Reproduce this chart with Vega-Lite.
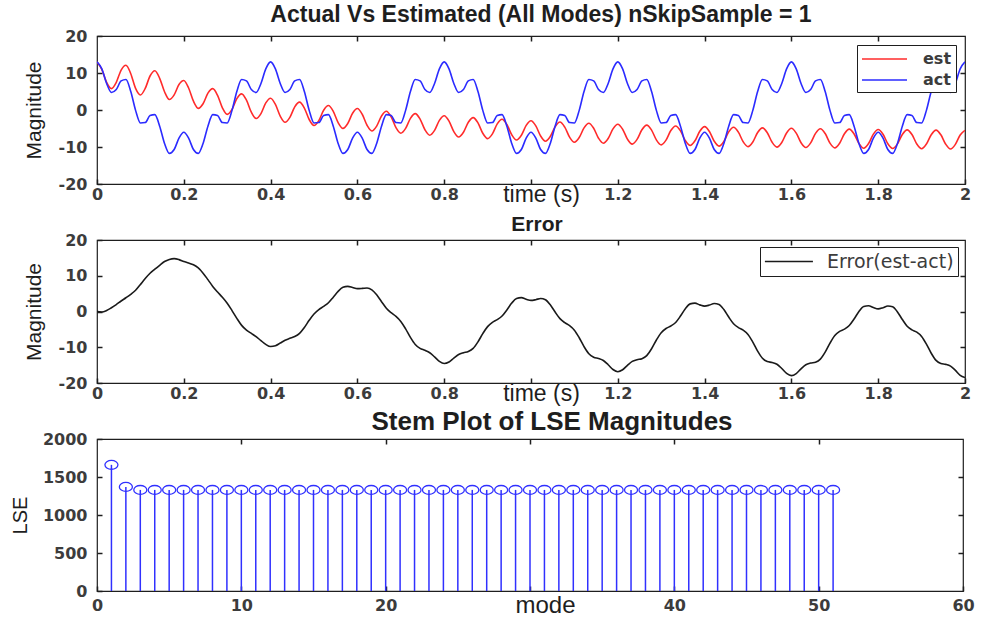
{
 "$schema": "https://vega.github.io/schema/vega-lite/v6.json",
 "background": "white",
 "padding": {"left": 9, "top": 3, "right": 5, "bottom": 3},
 "datasets": {
  "sig": [
{"t":0,"est":13,"act":13,"err":0},
{"t":0.0111,"est":10.97,"act":11.11,"err":-0.14},
{"t":0.0222,"est":7.46,"act":7.18,"err":0.28},
{"t":0.0333,"est":5.79,"act":4.73,"err":1.06},
{"t":0.0444,"est":7.47,"act":5.53,"err":1.94},
{"t":0.0556,"est":10.8,"act":7.86,"err":2.94},
{"t":0.0667,"est":12.1,"act":8.25,"err":3.85},
{"t":0.0778,"est":9.81,"act":5,"err":4.81},
{"t":0.0889,"est":5.83,"act":-0.1,"err":5.93},
{"t":0.1,"est":4.06,"act":-3.5,"err":7.56},
{"t":0.1111,"est":5.83,"act":-3.4,"err":9.23},
{"t":0.1222,"est":9.19,"act":-1.5,"err":10.69},
{"t":0.1333,"est":10.59,"act":-1.25,"err":11.84},
{"t":0.1444,"est":8.57,"act":-4.36,"err":12.93},
{"t":0.1556,"est":4.94,"act":-9.03,"err":13.97},
{"t":0.1667,"est":2.83,"act":-11.73,"err":14.56},
{"t":0.1778,"est":4.1,"act":-10.68,"err":14.78},
{"t":0.1889,"est":6.9,"act":-7.61,"err":14.51},
{"t":0.2,"est":7.99,"act":-6,"err":13.99},
{"t":0.2111,"est":5.95,"act":-7.61,"err":13.56},
{"t":0.2222,"est":2.38,"act":-10.68,"err":13.06},
{"t":0.2333,"est":0.45,"act":-11.73,"err":12.18},
{"t":0.2444,"est":1.7,"act":-9.03,"err":10.73},
{"t":0.2556,"est":4.55,"act":-4.36,"err":8.91},
{"t":0.2667,"est":5.77,"act":-1.25,"err":7.02},
{"t":0.2778,"est":3.95,"act":-1.5,"err":5.45},
{"t":0.2889,"est":0.59,"act":-3.4,"err":3.99},
{"t":0.3,"est":-1.18,"act":-3.5,"err":2.32},
{"t":0.3111,"est":0.16,"act":-0.1,"err":0.26},
{"t":0.3222,"est":3.08,"act":5,"err":-1.92},
{"t":0.3333,"est":4.37,"act":8.25,"err":-3.88},
{"t":0.3444,"est":2.65,"act":7.86,"err":-5.21},
{"t":0.3556,"est":-0.6,"act":5.53,"err":-6.13},
{"t":0.3667,"est":-2.31,"act":4.73,"err":-7.04},
{"t":0.3778,"est":-0.97,"act":7.18,"err":-8.15},
{"t":0.3889,"est":1.91,"act":11.11,"err":-9.2},
{"t":0.4,"est":3.19,"act":13,"err":-9.81},
{"t":0.4111,"est":1.52,"act":11.11,"err":-9.59},
{"t":0.4222,"est":-1.65,"act":7.18,"err":-8.83},
{"t":0.4333,"est":-3.3,"act":4.73,"err":-8.03},
{"t":0.4444,"est":-1.98,"act":5.53,"err":-7.51},
{"t":0.4556,"est":0.86,"act":7.86,"err":-7},
{"t":0.4667,"est":2.14,"act":8.25,"err":-6.11},
{"t":0.4778,"est":0.52,"act":5,"err":-4.48},
{"t":0.4889,"est":-2.57,"act":-0.1,"err":-2.47},
{"t":0.5,"est":-4.19,"act":-3.5,"err":-0.69},
{"t":0.5111,"est":-2.86,"act":-3.4,"err":0.54},
{"t":0.5222,"est":-0.07,"act":-1.5,"err":1.43},
{"t":0.5333,"est":1.21,"act":-1.25,"err":2.46},
{"t":0.5444,"est":-0.36,"act":-4.36,"err":4},
{"t":0.5556,"est":-3.4,"act":-9.03,"err":5.63},
{"t":0.5667,"est":-4.97,"act":-11.73,"err":6.76},
{"t":0.5778,"est":-3.65,"act":-10.68,"err":7.03},
{"t":0.5889,"est":-0.88,"act":-7.61,"err":6.73},
{"t":0.6,"est":0.4,"act":-6,"err":6.4},
{"t":0.6111,"est":-1.15,"act":-7.61,"err":6.46},
{"t":0.6222,"est":-4.12,"act":-10.68,"err":6.56},
{"t":0.6333,"est":-5.66,"act":-11.73,"err":6.07},
{"t":0.6444,"est":-4.35,"act":-9.03,"err":4.68},
{"t":0.6556,"est":-1.61,"act":-4.36,"err":2.75},
{"t":0.6667,"est":-0.33,"act":-1.25,"err":0.92},
{"t":0.6778,"est":-1.84,"act":-1.5,"err":-0.34},
{"t":0.6889,"est":-4.77,"act":-3.4,"err":-1.37},
{"t":0.7,"est":-6.27,"act":-3.5,"err":-2.77},
{"t":0.7111,"est":-4.97,"act":-0.1,"err":-4.87},
{"t":0.7222,"est":-2.25,"act":5,"err":-7.25},
{"t":0.7333,"est":-0.98,"act":8.25,"err":-9.23},
{"t":0.7444,"est":-2.46,"act":7.86,"err":-10.32},
{"t":0.7556,"est":-5.33,"act":5.53,"err":-10.86},
{"t":0.7667,"est":-6.81,"act":4.73,"err":-11.54},
{"t":0.7778,"est":-5.51,"act":7.18,"err":-12.69},
{"t":0.7889,"est":-2.82,"act":11.11,"err":-13.93},
{"t":0.8,"est":-1.55,"act":13,"err":-14.55},
{"t":0.8111,"est":-3,"act":11.11,"err":-14.11},
{"t":0.8222,"est":-5.84,"act":7.18,"err":-13.02},
{"t":0.8333,"est":-7.29,"act":4.73,"err":-12.02},
{"t":0.8444,"est":-6,"act":5.53,"err":-11.53},
{"t":0.8556,"est":-3.32,"act":7.86,"err":-11.18},
{"t":0.8667,"est":-2.05,"act":8.25,"err":-10.3},
{"t":0.8778,"est":-3.48,"act":5,"err":-8.48},
{"t":0.8889,"est":-6.29,"act":-0.1,"err":-6.19},
{"t":0.9,"est":-7.73,"act":-3.5,"err":-4.23},
{"t":0.9111,"est":-6.44,"act":-3.4,"err":-3.04},
{"t":0.9222,"est":-3.76,"act":-1.5,"err":-2.26},
{"t":0.9333,"est":-2.5,"act":-1.25,"err":-1.25},
{"t":0.9444,"est":-3.92,"act":-4.36,"err":0.44},
{"t":0.9556,"est":-6.68,"act":-9.03,"err":2.35},
{"t":0.9667,"est":-8.1,"act":-11.73,"err":3.63},
{"t":0.9778,"est":-6.81,"act":-10.68,"err":3.87},
{"t":0.9889,"est":-4.17,"act":-7.61,"err":3.44},
{"t":1,"est":-2.9,"act":-6,"err":3.1},
{"t":1.0111,"est":-4.3,"act":-7.61,"err":3.31},
{"t":1.0222,"est":-7.03,"act":-10.68,"err":3.65},
{"t":1.0333,"est":-8.43,"act":-11.73,"err":3.3},
{"t":1.0444,"est":-7.15,"act":-9.03,"err":1.88},
{"t":1.0556,"est":-4.52,"act":-4.36,"err":-0.16},
{"t":1.0667,"est":-3.25,"act":-1.25,"err":-2},
{"t":1.0778,"est":-4.63,"act":-1.5,"err":-3.13},
{"t":1.0889,"est":-7.34,"act":-3.4,"err":-3.94},
{"t":1.1,"est":-8.72,"act":-3.5,"err":-5.22},
{"t":1.1111,"est":-7.44,"act":-0.1,"err":-7.34},
{"t":1.1222,"est":-4.83,"act":5,"err":-9.83},
{"t":1.1333,"est":-3.57,"act":8.25,"err":-11.82},
{"t":1.1444,"est":-4.93,"act":7.86,"err":-12.79},
{"t":1.1556,"est":-7.62,"act":5.53,"err":-13.15},
{"t":1.1667,"est":-8.98,"act":4.73,"err":-13.71},
{"t":1.1778,"est":-7.71,"act":7.18,"err":-14.89},
{"t":1.1889,"est":-5.11,"act":11.11,"err":-16.22},
{"t":1.2,"est":-3.84,"act":13,"err":-16.84},
{"t":1.2111,"est":-5.19,"act":11.11,"err":-16.3},
{"t":1.2222,"est":-7.87,"act":7.18,"err":-15.05},
{"t":1.2333,"est":-9.22,"act":4.73,"err":-13.95},
{"t":1.2444,"est":-7.95,"act":5.53,"err":-13.48},
{"t":1.2556,"est":-5.34,"act":7.86,"err":-13.2},
{"t":1.2667,"est":-4.08,"act":8.25,"err":-12.33},
{"t":1.2778,"est":-5.43,"act":5,"err":-10.43},
{"t":1.2889,"est":-8.08,"act":-0.1,"err":-7.98},
{"t":1.3,"est":-9.43,"act":-3.5,"err":-5.93},
{"t":1.3111,"est":-8.15,"act":-3.4,"err":-4.75},
{"t":1.3222,"est":-5.56,"act":-1.5,"err":-4.06},
{"t":1.3333,"est":-4.31,"act":-1.25,"err":-3.06},
{"t":1.3444,"est":-5.64,"act":-4.36,"err":-1.28},
{"t":1.3556,"est":-8.27,"act":-9.03,"err":0.76},
{"t":1.3667,"est":-9.6,"act":-11.73,"err":2.13},
{"t":1.3778,"est":-8.33,"act":-10.68,"err":2.35},
{"t":1.3889,"est":-5.76,"act":-7.61,"err":1.85},
{"t":1.4,"est":-4.5,"act":-6,"err":1.5},
{"t":1.4111,"est":-5.82,"act":-7.61,"err":1.79},
{"t":1.4222,"est":-8.44,"act":-10.68,"err":2.24},
{"t":1.4333,"est":-9.76,"act":-11.73,"err":1.97},
{"t":1.4444,"est":-8.5,"act":-9.03,"err":0.53},
{"t":1.4556,"est":-5.92,"act":-4.36,"err":-1.56},
{"t":1.4667,"est":-4.67,"act":-1.25,"err":-3.42},
{"t":1.4778,"est":-5.99,"act":-1.5,"err":-4.49},
{"t":1.4889,"est":-8.59,"act":-3.4,"err":-5.19},
{"t":1.5,"est":-9.9,"act":-3.5,"err":-6.4},
{"t":1.5111,"est":-8.64,"act":-0.1,"err":-8.54},
{"t":1.5222,"est":-6.08,"act":5,"err":-11.08},
{"t":1.5333,"est":-4.82,"act":8.25,"err":-13.07},
{"t":1.5444,"est":-6.13,"act":7.86,"err":-13.99},
{"t":1.5556,"est":-8.73,"act":5.53,"err":-14.26},
{"t":1.5667,"est":-10.03,"act":4.73,"err":-14.76},
{"t":1.5778,"est":-8.77,"act":7.18,"err":-15.95},
{"t":1.5889,"est":-6.21,"act":11.11,"err":-17.32},
{"t":1.6,"est":-4.95,"act":13,"err":-17.95},
{"t":1.6111,"est":-6.25,"act":11.11,"err":-17.36},
{"t":1.6222,"est":-8.85,"act":7.18,"err":-16.03},
{"t":1.6333,"est":-10.15,"act":4.73,"err":-14.88},
{"t":1.6444,"est":-8.89,"act":5.53,"err":-14.42},
{"t":1.6556,"est":-6.32,"act":7.86,"err":-14.18},
{"t":1.6667,"est":-5.07,"act":8.25,"err":-13.32},
{"t":1.6778,"est":-6.37,"act":5,"err":-11.37},
{"t":1.6889,"est":-8.95,"act":-0.1,"err":-8.85},
{"t":1.7,"est":-10.24,"act":-3.5,"err":-6.74},
{"t":1.7111,"est":-8.98,"act":-3.4,"err":-5.58},
{"t":1.7222,"est":-6.43,"act":-1.5,"err":-4.93},
{"t":1.7333,"est":-5.18,"act":-1.25,"err":-3.93},
{"t":1.7444,"est":-6.47,"act":-4.36,"err":-2.11},
{"t":1.7556,"est":-9.04,"act":-9.03,"err":-0.01},
{"t":1.7667,"est":-10.33,"act":-11.73,"err":1.4},
{"t":1.7778,"est":-9.07,"act":-10.68,"err":1.61},
{"t":1.7889,"est":-6.52,"act":-7.61,"err":1.09},
{"t":1.8,"est":-5.27,"act":-6,"err":0.73},
{"t":1.8111,"est":-6.55,"act":-7.61,"err":1.06},
{"t":1.8222,"est":-9.13,"act":-10.68,"err":1.55},
{"t":1.8333,"est":-10.41,"act":-11.73,"err":1.32},
{"t":1.8444,"est":-9.15,"act":-9.03,"err":-0.12},
{"t":1.8556,"est":-6.6,"act":-4.36,"err":-2.24},
{"t":1.8667,"est":-5.36,"act":-1.25,"err":-4.11},
{"t":1.8778,"est":-6.64,"act":-1.5,"err":-5.14},
{"t":1.8889,"est":-9.19,"act":-3.4,"err":-5.79},
{"t":1.9,"est":-10.47,"act":-3.5,"err":-6.97},
{"t":1.9111,"est":-9.21,"act":-0.1,"err":-9.11},
{"t":1.9222,"est":-6.68,"act":5,"err":-11.68},
{"t":1.9333,"est":-5.43,"act":8.25,"err":-13.68},
{"t":1.9444,"est":-6.71,"act":7.86,"err":-14.57},
{"t":1.9556,"est":-9.26,"act":5.53,"err":-14.79},
{"t":1.9667,"est":-10.54,"act":4.73,"err":-15.27},
{"t":1.9778,"est":-9.28,"act":7.18,"err":-16.46},
{"t":1.9889,"est":-6.75,"act":11.11,"err":-17.86},
{"t":2,"est":-5.49,"act":13,"err":-18.49}
  ],
  "lse": [
{"mode":1,"lse":1660},{"mode":2,"lse":1370},{"mode":3,"lse":1330},{"mode":4,"lse":1330},{"mode":5,"lse":1330},
{"mode":6,"lse":1330},{"mode":7,"lse":1330},{"mode":8,"lse":1330},{"mode":9,"lse":1330},{"mode":10,"lse":1330},
{"mode":11,"lse":1330},{"mode":12,"lse":1330},{"mode":13,"lse":1330},{"mode":14,"lse":1330},{"mode":15,"lse":1330},
{"mode":16,"lse":1330},{"mode":17,"lse":1330},{"mode":18,"lse":1330},{"mode":19,"lse":1330},{"mode":20,"lse":1330},
{"mode":21,"lse":1330},{"mode":22,"lse":1330},{"mode":23,"lse":1330},{"mode":24,"lse":1330},{"mode":25,"lse":1330},
{"mode":26,"lse":1330},{"mode":27,"lse":1330},{"mode":28,"lse":1330},{"mode":29,"lse":1330},{"mode":30,"lse":1330},
{"mode":31,"lse":1330},{"mode":32,"lse":1330},{"mode":33,"lse":1330},{"mode":34,"lse":1330},{"mode":35,"lse":1330},
{"mode":36,"lse":1330},{"mode":37,"lse":1330},{"mode":38,"lse":1330},{"mode":39,"lse":1330},{"mode":40,"lse":1330},
{"mode":41,"lse":1330},{"mode":42,"lse":1330},{"mode":43,"lse":1330},{"mode":44,"lse":1330},{"mode":45,"lse":1330},
{"mode":46,"lse":1330},{"mode":47,"lse":1330},{"mode":48,"lse":1330},{"mode":49,"lse":1330},{"mode":50,"lse":1330},
{"mode":51,"lse":1330}
  ]
 },
 "config": {
  "font": "Liberation Sans",
  "view": {"stroke": "#1e1e1e", "strokeWidth": 1.2},
  "axis": {"domain": false, "grid": false, "ticks": true, "tickSize": -5, "tickWidth": 1.5, "tickColor": "#1e1e1e",
           "labelFont": "DejaVu Sans", "labelFontWeight": "bold", "labelFontSize": 16, "labelColor": "#3c3c3c",
           "titleFont": "Liberation Sans", "titleFontWeight": "normal", "titleColor": "#1e1e1e",
           "labelFlush": false, "labelOverlap": false},
  "legend": {"title": null, "orient": "top-right", "symbolStrokeWidth": 1.5,
             "labelFont": "DejaVu Sans", "labelColor": "#3c3c3c", "strokeColor": "#1e1e1e", "fillColor": "white",
             "rowPadding": 2},
  "title": {"font": "Liberation Sans", "fontWeight": "bold", "color": "#1e1e1e", "anchor": "middle"}
 },
 "bounds": "flush",
 "spacing": 56,
 "resolve": {"scale": {"color": "independent"}},
 "vconcat": [
    {
     "width": 868, "height": 148,
     "title": {"text": "Actual Vs Estimated (All Modes)  nSkipSample = 1", "fontSize": 23, "offset": 1, "dx": 10},
     "data": {"name": "sig"},
     "layer": [
      {
       "transform": [{"fold": ["est", "act"], "as": ["series", "value"]}],
       "mark": {"type": "line", "interpolate": "monotone", "strokeWidth": 1.6, "clip": true},
       "encoding": {
        "x": {"field": "t", "type": "quantitative", "scale": {"domain": [0, 2], "nice": false, "zero": false},
              "axis": {"values": [0, 0.2, 0.4, 0.6, 0.8, 1, 1.2, 1.4, 1.6, 1.8, 2], "format": "~g",
                       "labelExpr": "datum.value == 1 ? '' : datum.label", "labelPadding": 7,
                       "title": "time (s)", "titleFontSize": 23, "titleX": 444, "titleY": 17, "titleBaseline": "alphabetic"}},
        "y": {"field": "value", "type": "quantitative", "scale": {"domain": [-20, 20], "nice": false},
              "axis": {"values": [-20, -10, 0, 10, 20], "labelExpr": "replace(datum.label, '\u2212', '-')",
                       "labelPadding": 15, "title": "Magnitude", "titleFontSize": 21, "titlePadding": 14}},
        "color": {"field": "series", "type": "nominal",
                  "scale": {"domain": ["est", "act"], "range": ["#ff2b2b", "#2b2bff"]},
                  "legend": {"offset": 9, "symbolType": "M-1,0H4", "symbolSize": 324, "labelFontSize": 16, "labelFontWeight": "bold",
                             "padding": 4, "labelOffset": 42, "rowPadding": 3}}
       }
      },
      {
       "mark": {"type": "line", "opacity": 0},
       "encoding": {
        "x": {"field": "t", "type": "quantitative", "scale": {"domain": [0, 2], "nice": false, "zero": false},
              "axis": {"orient": "top", "labels": false, "title": null, "values": [0.2, 0.4, 0.6, 0.8, 1, 1.2, 1.4, 1.6, 1.8]}},
        "y": {"field": "act", "type": "quantitative", "scale": {"domain": [-20, 20], "nice": false},
              "axis": {"orient": "right", "labels": false, "title": null, "values": [-10, 0, 10]}}
       }
      }
     ],
     "resolve": {"axis": {"x": "independent", "y": "independent"}}
    },
    {
     "width": 868, "height": 143,
     "title": {"text": "Error", "fontSize": 21, "offset": -3, "dx": 6},
     "data": {"name": "sig"},
     "layer": [
      {
       "mark": {"type": "line", "interpolate": "monotone", "strokeWidth": 1.6, "clip": true},
       "encoding": {
        "x": {"field": "t", "type": "quantitative", "scale": {"domain": [0, 2], "nice": false, "zero": false},
              "axis": {"values": [0, 0.2, 0.4, 0.6, 0.8, 1, 1.2, 1.4, 1.6, 1.8, 2], "format": "~g",
                       "labelExpr": "datum.value == 1 ? '' : datum.label", "labelPadding": 7,
                       "title": "time (s)", "titleFontSize": 23, "titleX": 444, "titleY": 17, "titleBaseline": "alphabetic"}},
        "y": {"field": "err", "type": "quantitative", "scale": {"domain": [-20, 20], "nice": false},
              "axis": {"values": [-20, -10, 0, 10, 20], "labelExpr": "replace(datum.label, '\u2212', '-')",
                       "labelPadding": 15, "title": "Magnitude", "titleFontSize": 21, "titlePadding": 14}},
        "color": {"datum": "Error(est-act)", "type": "nominal", "scale": {"range": ["#1a1a1a"]},
                  "legend": {"offset": 7, "symbolType": "M-1,0H4", "symbolSize": 369, "labelFontSize": 19, "padding": 4, "labelOffset": 42}}
       }
      },
      {
       "mark": {"type": "line", "opacity": 0},
       "encoding": {
        "x": {"field": "t", "type": "quantitative", "scale": {"domain": [0, 2], "nice": false, "zero": false},
              "axis": {"orient": "top", "labels": false, "title": null, "values": [0.2, 0.4, 0.6, 0.8, 1, 1.2, 1.4, 1.6, 1.8]}},
        "y": {"field": "err", "type": "quantitative", "scale": {"domain": [-20, 20], "nice": false},
              "axis": {"orient": "right", "labels": false, "title": null, "values": [-10, 0, 10]}}
       }
      }
     ],
     "resolve": {"axis": {"x": "independent", "y": "independent"}}
    },
  {
   "width": 866, "height": 152,
   "title": {"text": "Stem Plot of LSE Magnitudes", "fontSize": 26, "offset": -4, "dx": 22},
   "data": {"name": "lse"},
   "layer": [
    {
     "mark": {"type": "rule", "color": "#3030ff", "strokeWidth": 1.5},
     "encoding": {
      "x": {"field": "mode", "type": "quantitative", "scale": {"domain": [0, 60], "nice": false, "zero": false},
            "axis": {"values": [0, 10, 20, 30, 40, 50, 60], "labelExpr": "datum.value == 30 ? '' : datum.label",
                     "labelPadding": 11, "title": "mode", "titleFontSize": 24, "titleX": 448, "titleY": 21, "titleBaseline": "alphabetic"}},
      "y": {"field": "lse", "type": "quantitative", "scale": {"domain": [0, 2000], "nice": false},
            "axis": {"values": [0, 500, 1000, 1500, 2000], "format": "d", "labelPadding": 15, "title": "LSE", "titleFontSize": 20, "titlePadding": 12}},
      "y2": {"datum": 0}
     }
    },
    {
     "mark": {"type": "point", "shape": "M-1,0A1,0.68,0,1,0,1,0A1,0.68,0,1,0,-1,0Z", "size": 170, "filled": false,
              "color": "#3030ff", "strokeWidth": 1.3, "opacity": 1},
     "encoding": {
      "x": {"field": "mode", "type": "quantitative", "scale": {"domain": [0, 60], "nice": false, "zero": false}, "axis": null},
      "y": {"field": "lse", "type": "quantitative", "scale": {"domain": [0, 2000], "nice": false}, "axis": null}
     }
    },
    {
     "mark": {"type": "point", "opacity": 0},
     "encoding": {
      "x": {"field": "mode", "type": "quantitative", "scale": {"domain": [0, 60], "nice": false, "zero": false},
            "axis": {"orient": "top", "labels": false, "title": null, "values": [10, 20, 30, 40, 50]}},
      "y": {"field": "lse", "type": "quantitative", "scale": {"domain": [0, 2000], "nice": false},
            "axis": {"orient": "right", "labels": false, "title": null, "values": [500, 1000, 1500]}}
     }
    }
   ],
   "resolve": {"axis": {"x": "independent", "y": "independent"}}
  }
 ]
}
